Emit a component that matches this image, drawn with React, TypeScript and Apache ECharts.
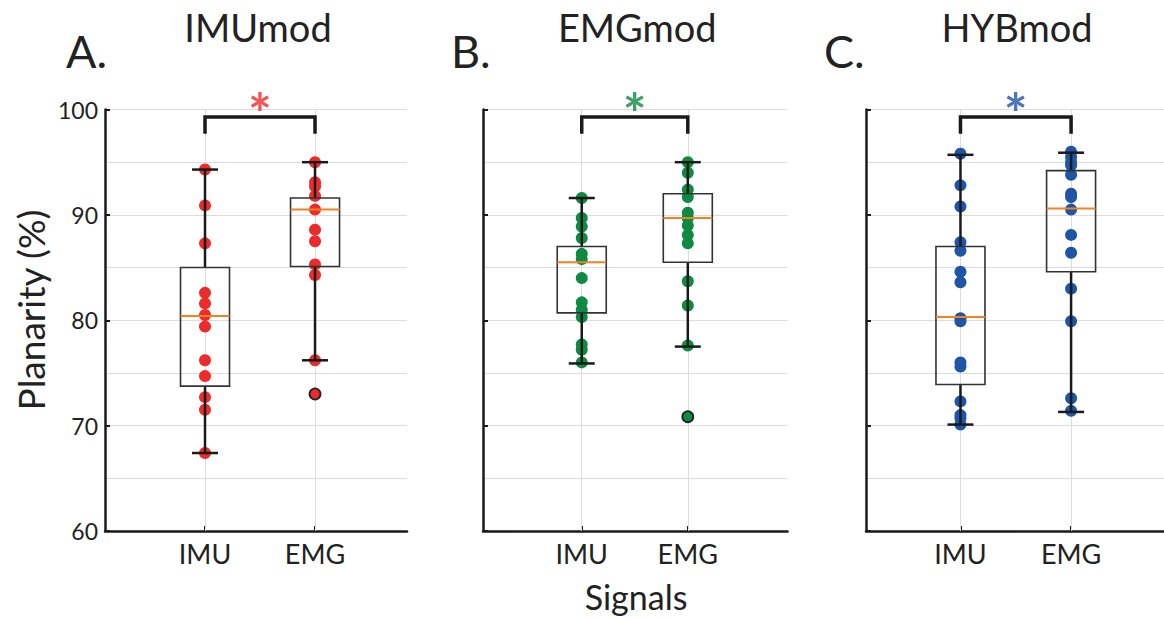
import React, { useEffect, useRef } from "react";
import * as echarts from "echarts";

const signals = ["IMU", "EMG"];
const panelTitles = ["IMUmod", "EMGmod", "HYBmod"];
const panelLetters = ["A.", "B.", "C."];
const panelColors = ["#EC2C2C", "#0F8A42", "#1E55A7"];
const yTicks = [60, 70, 80, 90, 100];

// Panel A
const aImu = [94.3, 90.9, 87.3, 82.6, 81.6, 80.5, 79.4, 76.2, 74.7, 72.7, 71.5, 67.4];
const aEmg = [95.0, 93.1, 92.7, 91.8, 90.5, 88.6, 87.5, 85.3, 84.3, 76.2];
const aEmgOut = [73.0];
const aImuBox = [67.4, 73.75, 80.4, 85.0, 94.3];
const aEmgBox = [76.2, 85.1, 90.5, 91.6, 95.0];

// Panel B
const bImu = [91.6, 89.7, 88.9, 87.8, 86.3, 85.8, 84.0, 81.7, 81.0, 80.3, 77.7, 77.2, 76.0];
const bEmg = [95.0, 94.0, 92.4, 91.7, 90.2, 89.7, 89.0, 88.1, 87.3, 83.7, 81.4, 77.6];
const bEmgOut = [70.85];
const bImuBox = [75.9, 80.7, 85.5, 87.0, 91.6];
const bEmgBox = [77.5, 85.5, 89.7, 92.0, 95.0];

// Panel C
const cImu = [95.8, 92.8, 90.8, 87.4, 86.6, 84.6, 83.6, 80.2, 79.9, 76.0, 75.6, 72.3, 71.0, 70.7, 70.1];
const cEmg = [96.0, 95.5, 95.0, 94.7, 93.8, 92.0, 91.7, 90.5, 88.1, 86.4, 83.0, 79.9, 72.6, 71.4];
const cEmgOut: number[] = [];
const cImuBox = [70.1, 73.9, 80.3, 87.0, 95.7];
const cEmgBox = [71.3, 84.6, 90.6, 94.2, 95.9];

// significance bracket (y values) and star
const bracketLow = 97.7;
const bracketHigh = 99.3;
const starY = 99.7;

const panels = [
  { imu: aImu, emg: aEmg, out: aEmgOut, imuBox: aImuBox, emgBox: aEmgBox },
  { imu: bImu, emg: bEmg, out: bEmgOut, imuBox: bImuBox, emgBox: bEmgBox },
  { imu: cImu, emg: cEmg, out: cEmgOut, imuBox: cImuBox, emgBox: cEmgBox },
];

// layout
const gridLeft = [105, 483, 866];
const gridWidth = [302, 304.5, 298];
const xMin = [0.091, 0.069, 0.146];
const xMax = [2.836, 2.94, 2.84];
const gridTop = 109.5;
const gridHeight = 421.5;
const FONT = "Lato, 'Open Sans', sans-serif";
const TXT = "#222";

export default function App() {
  const ref = useRef<HTMLDivElement>(null);
  useEffect(() => {
    if (!ref.current) return;
    const chart = echarts.init(ref.current, null, { renderer: "svg" });

    const grids: any[] = [];
    const xAxes: any[] = [];
    const yAxes: any[] = [];
    const series: any[] = [];
    const graphics: any[] = [];

    panels.forEach((p, i) => {
      grids.push({ left: gridLeft[i], top: gridTop, width: gridWidth[i], height: gridHeight });
      xAxes.push({
        type: "value",
        gridIndex: i,
        min: xMin[i],
        max: xMax[i],
        axisLine: { show: true, lineStyle: { color: "#1a1a1a", width: 2.5 } },
        axisTick: { show: true, inside: true, length: 5, customValues: [1, 2], lineStyle: { color: "#1a1a1a", width: 2 } },
        axisLabel: {
          show: true,
          customValues: [1, 2],
          formatter: (v: number) => signals[Math.round(v) - 1] || "",
          fontSize: 27,
          color: TXT,
          fontFamily: FONT,
          margin: 9,
        },
        splitLine: { show: false },
      });
      yAxes.push({
        type: "value",
        gridIndex: i,
        min: yTicks[0],
        max: yTicks[yTicks.length - 1],
        interval: 10,
        axisLine: { show: true, lineStyle: { color: "#1a1a1a", width: 2.5 } },
        axisTick: { show: true, inside: true, length: 5, lineStyle: { color: "#1a1a1a", width: 2 } },
        axisLabel: { show: i === 0, fontSize: 23, color: TXT, fontFamily: FONT, margin: 7 },
        splitLine: { show: true, lineStyle: { color: "#DCDCDC", width: 1 } },
        minorTick: { show: false, splitNumber: 2 },
        minorSplitLine: { show: true, lineStyle: { color: "#DCDCDC", width: 1 } },
      });

      const col = panelColors[i];
      const pts = [
        ...p.imu.map((v) => [1, v]),
        ...p.emg.map((v) => [2, v]),
      ];
      series.push({
        type: "scatter",
        xAxisIndex: i,
        yAxisIndex: i,
        data: pts,
        symbol: "circle",
        symbolSize: 12,
        itemStyle: { color: col, opacity: 1 },
        z: 2,
        silent: true,
        markLine: {
          silent: true,
          symbol: "none",
          z: 1,
          label: { show: false },
          lineStyle: { color: "#DCDCDC", width: 1, type: "solid" },
          data: [{ xAxis: 1 }, { xAxis: 2 }],
        },
      });
      series.push({
        type: "scatter",
        xAxisIndex: i,
        yAxisIndex: i,
        data: p.out.map((v) => [2, v]),
        symbol: "circle",
        symbolSize: 11,
        itemStyle: { color: col, borderColor: "#222", borderWidth: 1.8, opacity: 1 },
        z: 2,
        silent: true,
      });
      series.push({
        type: "custom",
        xAxisIndex: i,
        yAxisIndex: i,
        z: 3,
        silent: true,
        data: [
          [1, ...p.imuBox],
          [2, ...p.emgBox],
        ],
        encode: { x: 0, y: [1, 2, 3, 4, 5] },
        renderItem: (params: any, api: any) => {
          const x = api.value(0);
          const pMin = api.coord([x, api.value(1)]);
          const pQ1 = api.coord([x, api.value(2)]);
          const pMd = api.coord([x, api.value(3)]);
          const pQ3 = api.coord([x, api.value(4)]);
          const pMax = api.coord([x, api.value(5)]);
          const cx = pMin[0];
          const hw = 24.5;
          const cw = 13;
          const wStyle = { stroke: "#1a1a1a", lineWidth: 2.5 };
          return {
            type: "group",
            children: [
              { type: "line", shape: { x1: cx, y1: pMax[1], x2: cx, y2: pQ3[1] }, style: wStyle },
              { type: "line", shape: { x1: cx, y1: pQ1[1], x2: cx, y2: pMin[1] }, style: wStyle },
              { type: "line", shape: { x1: cx - cw, y1: pMax[1], x2: cx + cw, y2: pMax[1] }, style: wStyle },
              { type: "line", shape: { x1: cx - cw, y1: pMin[1], x2: cx + cw, y2: pMin[1] }, style: wStyle },
              {
                type: "rect",
                shape: { x: cx - hw, y: pQ3[1], width: 2 * hw, height: pQ1[1] - pQ3[1] },
                style: { fill: "none", stroke: "#333", lineWidth: 1.6 },
              },
              {
                type: "line",
                shape: { x1: cx - hw, y1: pMd[1], x2: cx + hw, y2: pMd[1] },
                style: { stroke: "#F58220", lineWidth: 2 },
              },
            ],
          };
        },
      });
      series.push({
        type: "line",
        xAxisIndex: i,
        yAxisIndex: i,
        data: [
          [1, bracketLow],
          [1, bracketHigh],
          [2, bracketHigh],
          [2, bracketLow],
        ],
        symbol: "none",
        lineStyle: { color: "#1a1a1a", width: 3.5, join: "miter", cap: "butt" },
        z: 4,
        silent: true,
        clip: false,
      });
      series.push({
        type: "scatter",
        xAxisIndex: i,
        yAxisIndex: i,
        data: [[1.5, starY]],
        symbol: "circle",
        symbolSize: 1,
        itemStyle: { color: "rgba(0,0,0,0)" },
        clip: false,
        silent: true,
        z: 5,
        label: {
          show: true,
          position: "inside",
          formatter: "*",
          fontSize: 56,
          fontWeight: "bold",
          color: col,
          fontFamily: FONT,
        },
      });

      const center = gridLeft[i] + gridWidth[i] / 2;
      graphics.push({
        type: "text",
        x: center + 2,
        y: 27,
        style: { text: panelTitles[i], font: `38px ${FONT}`, fill: TXT, align: "center", verticalAlign: "middle" },
      });
      graphics.push({
        type: "text",
        x: [66, 451, 824][i],
        y: 51,
        style: { text: panelLetters[i], font: `45px ${FONT}`, fill: TXT, align: "left", verticalAlign: "middle" },
      });
    });

    graphics.push({
      type: "text",
      x: 636,
      y: 596,
      style: { text: "Signals", font: `34px ${FONT}`, fill: TXT, align: "center", verticalAlign: "middle" },
    });
    graphics.push({
      type: "text",
      x: 30,
      y: 310,
      rotation: Math.PI / 2,
      style: { text: "Planarity (%)", font: `37px ${FONT}`, fill: TXT, align: "center", verticalAlign: "middle" },
    });

    chart.setOption({
      animation: false,
      backgroundColor: "#ffffff",
      textStyle: { fontFamily: FONT },
      grid: grids,
      xAxis: xAxes,
      yAxis: yAxes,
      series,
      graphic: graphics,
    });
    return () => chart.dispose();
  }, []);
  return (
    <div
      ref={ref}
      style={{ position: "absolute", left: 0, top: 0, width: 1164, height: 619, background: "#fff" }}
    />
  );
}
